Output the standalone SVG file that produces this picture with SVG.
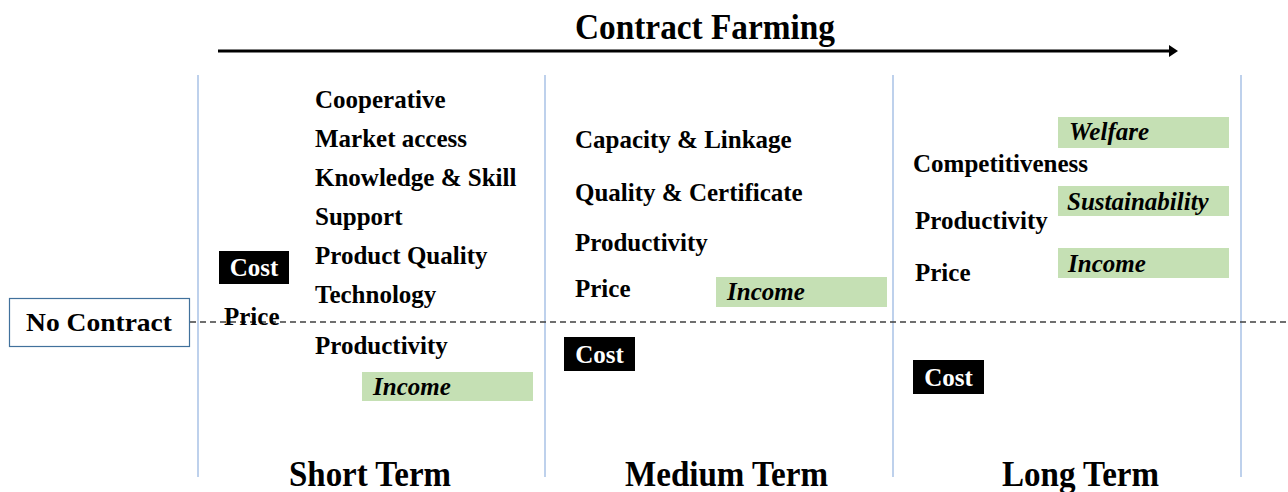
<svg xmlns="http://www.w3.org/2000/svg" width="1288" height="492" viewBox="0 0 1288 492">
<defs>
<style>
.t{font-family:"Liberation Serif","Times New Roman",serif;font-weight:bold;font-size:25px;fill:#000}
.i{font-family:"Liberation Serif","Times New Roman",serif;font-weight:bold;font-style:italic;font-size:25px;fill:#000}
.w{font-family:"Liberation Serif","Times New Roman",serif;font-weight:bold;font-size:25px;fill:#fff}
.h{font-family:"Liberation Serif","Times New Roman",serif;font-weight:bold;font-size:36px;fill:#000}
.g{fill:#c5e0b4}
.k{fill:#000}
.v{stroke:#a9c2e6;stroke-width:1.5}
</style>
<marker id="ah" markerWidth="4" markerHeight="4" refX="1" refY="2" orient="auto" markerUnits="strokeWidth">
<path d="M0,0 L3,2 L0,4 Z" fill="#000"/>
</marker>
</defs>
<rect width="1288" height="492" fill="#fff"/>
<g id="dividers">
<line class="v" x1="198" y1="75" x2="198" y2="477"/>
<line class="v" x1="545" y1="75" x2="545" y2="477"/>
<line class="v" x1="893" y1="75" x2="893" y2="477"/>
<line class="v" x1="1241" y1="75" x2="1241" y2="477"/>
</g>
<g id="connectors">
<line x1="218" y1="51" x2="1172" y2="51" stroke="#000" stroke-width="3" marker-end="url(#ah)"/>
<line x1="190" y1="322" x2="1288" y2="322" stroke="#404040" stroke-width="1.3" stroke-dasharray="6,4"/>
</g>
<g id="title">
<text class="h" x="575" y="39" font-size="35" textLength="260" lengthAdjust="spacingAndGlyphs">Contract Farming</text>
</g>
<g id="no-contract">
<rect x="9.5" y="298.5" width="180" height="48" fill="#fff" stroke="#41719c" stroke-width="1.2"/>
<text class="t" x="26" y="331" font-size="28" textLength="146" lengthAdjust="spacingAndGlyphs">No Contract</text>
</g>
<g id="short-term">
<text class="t" x="315" y="108">Cooperative</text>
<text class="t" x="315" y="147">Market access</text>
<text class="t" x="315" y="186">Knowledge &amp; Skill</text>
<text class="t" x="315" y="225">Support</text>
<text class="t" x="315" y="264">Product Quality</text>
<text class="t" x="315" y="303">Technology</text>
<text class="t" x="315" y="354">Productivity</text>
<rect class="k" x="219" y="251" width="70" height="33"/>
<text class="w" x="254" y="276" text-anchor="middle">Cost</text>
<text class="t" x="224" y="325">Price</text>
<rect class="g" x="362" y="372" width="171" height="29"/>
<text class="i" x="373" y="395">Income</text>
<text class="h" x="289" y="486" textLength="162" lengthAdjust="spacingAndGlyphs">Short Term</text>
</g>
<g id="medium-term">
<text class="t" x="575" y="148">Capacity &amp; Linkage</text>
<text class="t" x="575" y="201">Quality &amp; Certificate</text>
<text class="t" x="575" y="251">Productivity</text>
<text class="t" x="575" y="297">Price</text>
<rect class="g" x="716" y="277" width="171" height="30"/>
<text class="i" x="727" y="300">Income</text>
<rect class="k" x="564" y="337" width="71" height="34"/>
<text class="w" x="599.5" y="363" text-anchor="middle">Cost</text>
<text class="h" x="625" y="486" textLength="203" lengthAdjust="spacingAndGlyphs">Medium Term</text>
</g>
<g id="long-term">
<rect class="g" x="1058" y="117" width="171" height="31"/>
<text class="i" x="1069" y="140">Welfare</text>
<text class="t" x="913" y="172">Competitiveness</text>
<rect class="g" x="1058" y="186" width="171" height="30"/>
<text class="i" x="1067" y="210">Sustainability</text>
<text class="t" x="915" y="229">Productivity</text>
<rect class="g" x="1058" y="248" width="171" height="30"/>
<text class="i" x="1068" y="272">Income</text>
<text class="t" x="915" y="281">Price</text>
<rect class="k" x="913" y="360" width="71" height="34"/>
<text class="w" x="948.5" y="386" text-anchor="middle">Cost</text>
<text class="h" x="1002" y="486" textLength="157" lengthAdjust="spacingAndGlyphs">Long Term</text>
</g>
</svg>
